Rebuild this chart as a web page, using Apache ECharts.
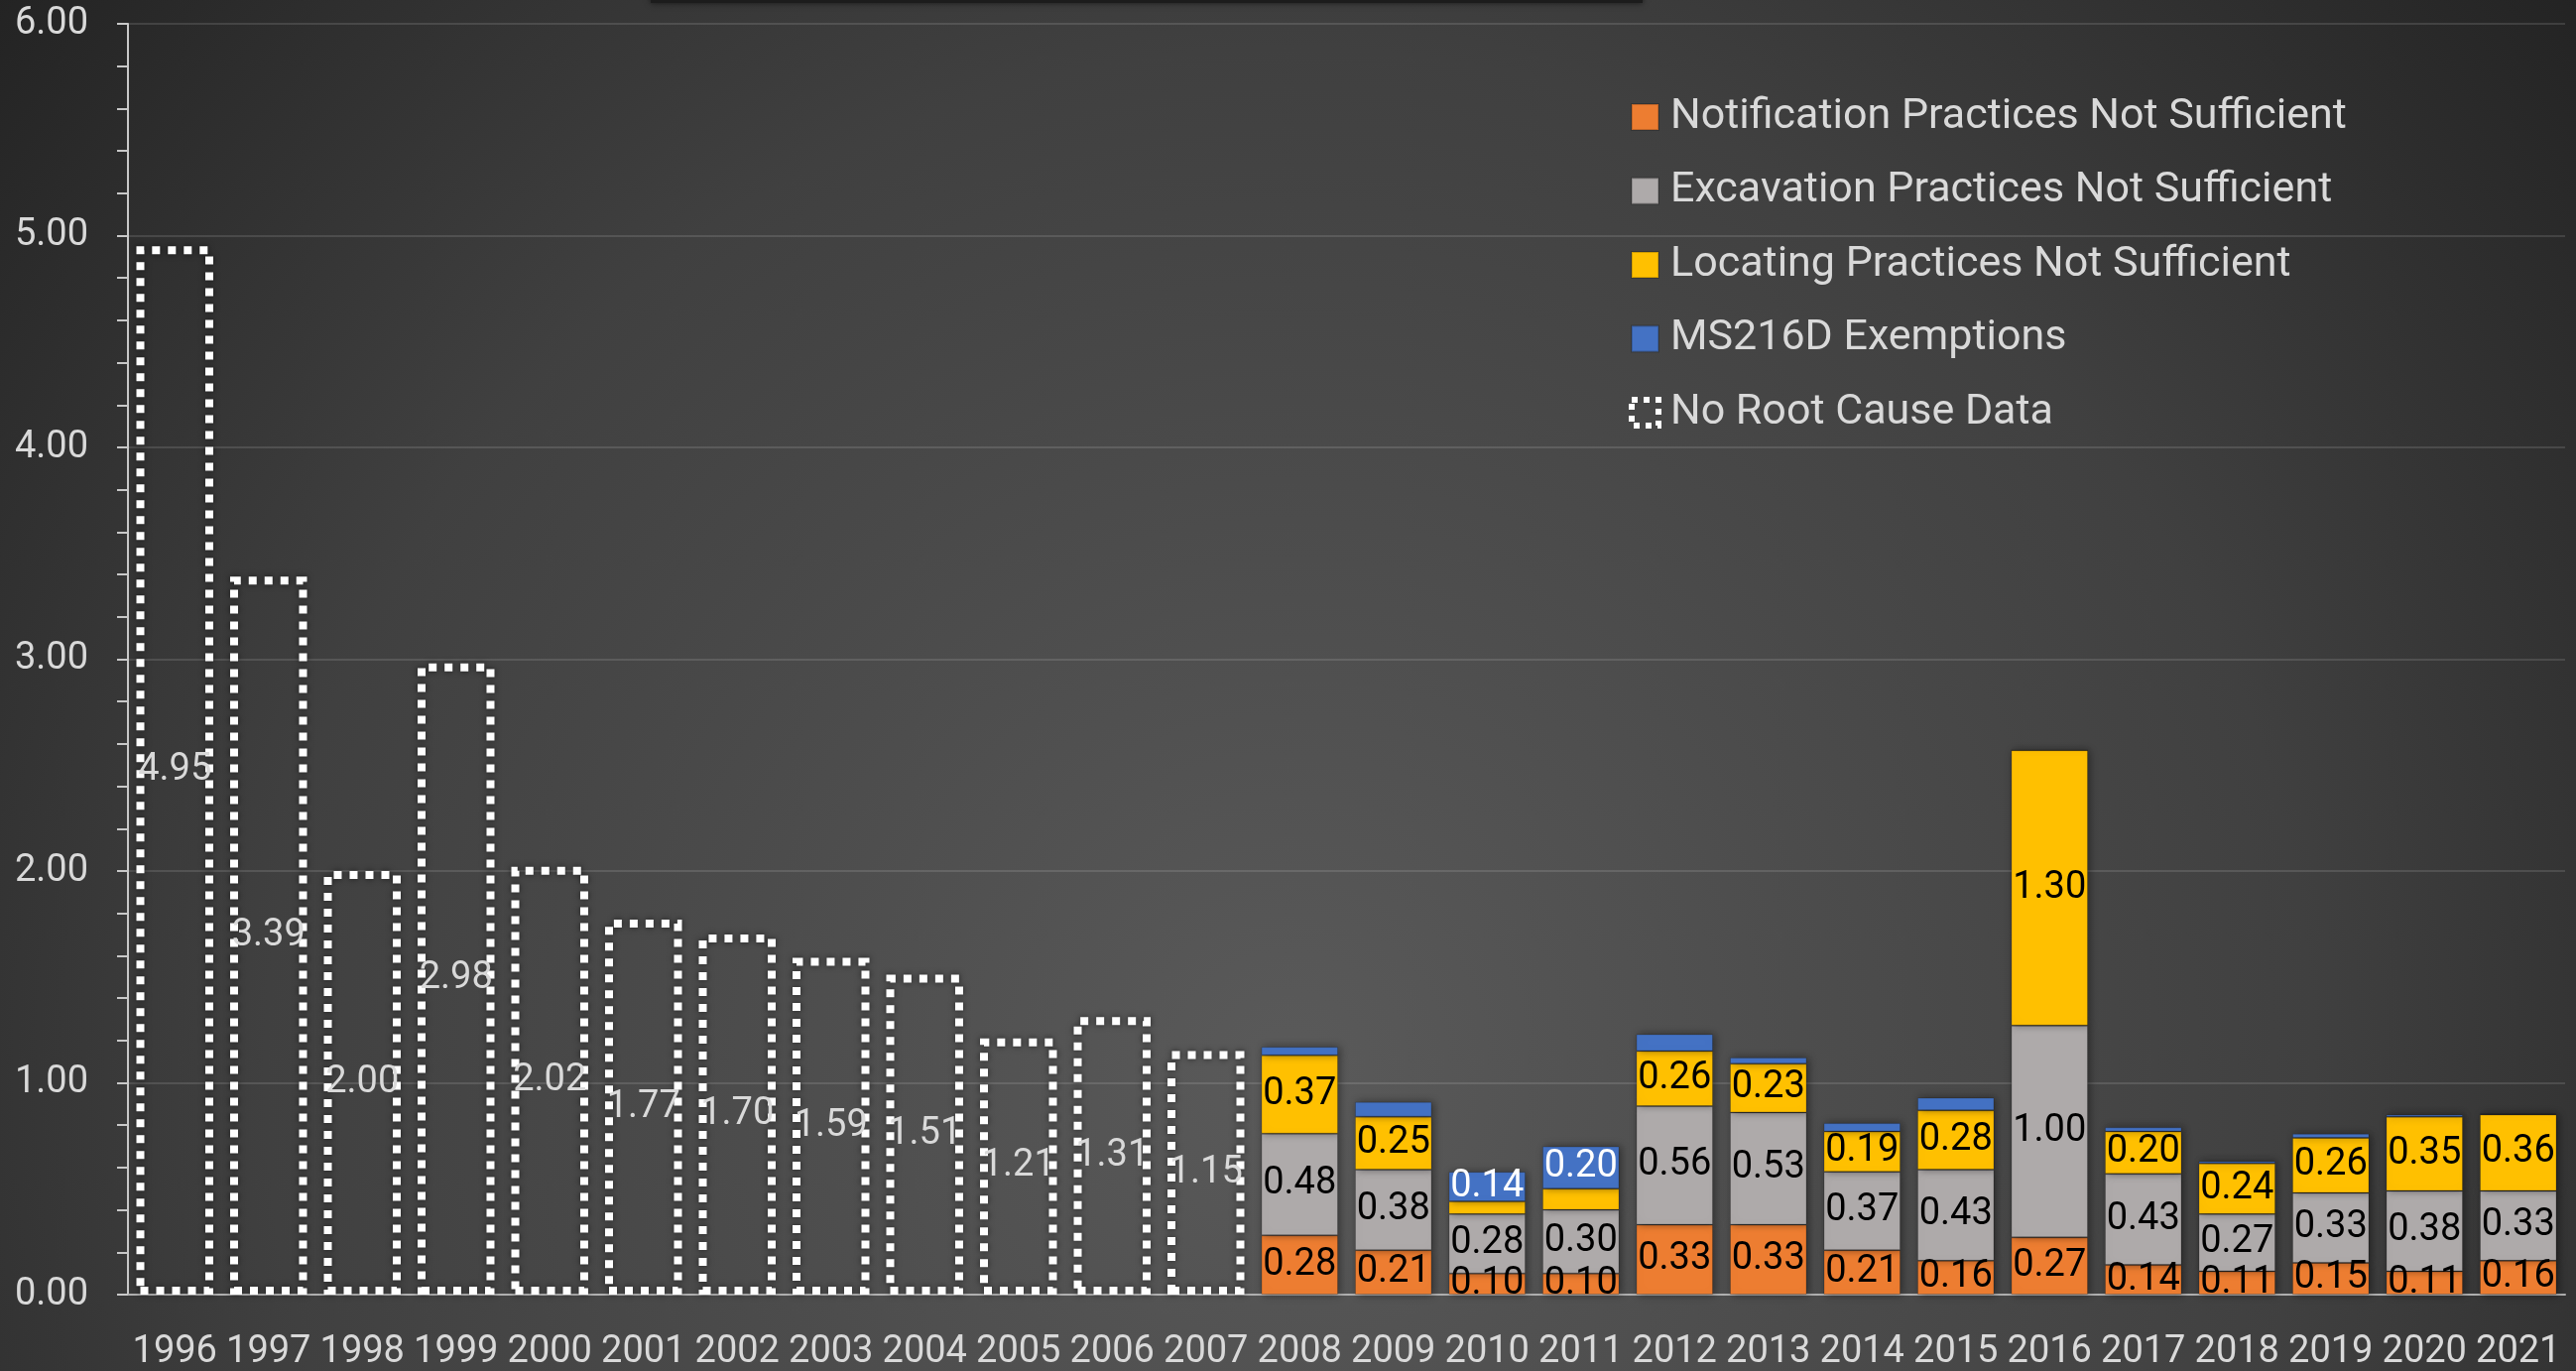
<!DOCTYPE html>
<html>
<head>
<meta charset="utf-8">
<script src="https://cdn.jsdelivr.net/npm/echarts@6/dist/echarts.min.js"></script>
<style>
html,body{margin:0;padding:0;background:#2a2a2a;}
#chart{width:2597px;height:1382px;}
</style>
</head>
<body>
<div id="chart"></div>
<script>
const years = ['1996','1997','1998','1999','2000','2001','2002','2003','2004','2005','2006','2007','2008','2009','2010','2011','2012','2013','2014','2015','2016','2017','2018','2019','2020','2021'];
const noRootCause = [4.95,3.39,2.00,2.98,2.02,1.77,1.70,1.59,1.51,1.21,1.31,1.15,null,null,null,null,null,null,null,null,null,null,null,null,null,null];
const notification = [null,null,null,null,null,null,null,null,null,null,null,null,0.28,0.21,0.10,0.10,0.33,0.33,0.21,0.16,0.27,0.14,0.11,0.15,0.11,0.16];
const excavation = [null,null,null,null,null,null,null,null,null,null,null,null,0.48,0.38,0.28,0.30,0.56,0.53,0.37,0.43,1.00,0.43,0.27,0.33,0.38,0.33];
const locating = [null,null,null,null,null,null,null,null,null,null,null,null,0.37,0.25,0.06,0.10,0.26,0.23,0.19,0.28,1.30,0.20,0.24,0.26,0.35,0.36];
const exemptions = [null,null,null,null,null,null,null,null,null,null,null,null,0.04,0.07,0.14,0.20,0.08,0.03,0.04,0.06,0.00,0.02,0.01,0.02,0.01,0.005];
const yTicks = ['0.00','1.00','2.00','3.00','4.00','5.00','6.00'];

const FONT = 'Roboto';
const chart = echarts.init(document.getElementById('chart'));

function fmt(minShow){
  return function(p){
    if (p.value == null || p.value < minShow) return '';
    return Number(p.value).toFixed(2);
  };
}
const segStyle = (c) => ({color:c, borderColor:'rgba(0,0,0,0.18)', borderWidth:1, shadowColor:'rgba(0,0,0,0.45)', shadowBlur:8, shadowOffsetX:2, shadowOffsetY:0});
const segLabel = (minShow, col) => ({show:true, position:'inside', color:col||'#000', fontFamily:FONT, fontSize:38, formatter:fmt(minShow)});

chart.setOption({
  backgroundColor: {
    type:'radial', x:1300, y:1080, r:1720, global:true,
    colorStops:[{offset:0,color:'#5a5a5a'},{offset:0.6,color:'#404040'},{offset:1,color:'#222222'}]
  },
  animation:false,
  graphic:[{type:'rect', shape:{x:656,y:-20,width:1000,height:23}, style:{fill:'#1c1c1c', shadowBlur:6, shadowColor:'rgba(0,0,0,0.6)'}}],
  grid:{left:129, right:11, top:24, bottom:76, containLabel:false},
  legend:{
    orient:'vertical', left:1637, top:91, itemWidth:27, itemHeight:26, itemGap:30.5,
    icon:'rect',
    textStyle:{color:'#d9d9d9', fontFamily:FONT, fontSize:43, lineHeight:44, padding:[0,0,0,7]},
    data:['Notification Practices Not Sufficient','Excavation Practices Not Sufficient','Locating Practices Not Sufficient','MS216D Exemptions',
      {name:'No Root Cause Data', itemStyle:{color:'rgba(0,0,0,0)', borderColor:'#ffffff', borderWidth:6, borderType:[6,6]}}]
  },
  xAxis:{
    type:'category', data:years,
    axisLine:{lineStyle:{color:'#b0b0b0', width:2}},
    axisTick:{alignWithLabel:true, length:10, lineStyle:{color:'#9a9a9a', width:2}},
    axisLabel:{color:'#d9d9d9', fontFamily:FONT, fontSize:38, margin:39, interval:0},
    splitLine:{show:false}
  },
  yAxis:{
    type:'value', min:0, max:6, interval:1,
    axisLine:{show:true, lineStyle:{color:'#c8c8c8', width:2}},
    axisTick:{show:true, length:11, lineStyle:{color:'#c8c8c8', width:2}},
    minorTick:{show:true, splitNumber:5, length:11, lineStyle:{color:'#c8c8c8', width:2}},
    axisLabel:{color:'#d9d9d9', fontFamily:FONT, fontSize:38, margin:40, formatter:(v)=>yTicks[Math.round(v)]},
    splitLine:{show:true, lineStyle:{color:'rgba(255,255,255,0.12)', width:2}}
  },
  series:[
    {name:'Notification Practices Not Sufficient', type:'bar', stack:'all', barWidth:'82%', data:notification,
     itemStyle:segStyle('#ED7D31'), label:segLabel(0)},
    {name:'Excavation Practices Not Sufficient', type:'bar', stack:'all', data:excavation,
     itemStyle:segStyle('#AEAAAA'), label:segLabel(0)},
    {name:'Locating Practices Not Sufficient', type:'bar', stack:'all', data:locating,
     itemStyle:segStyle('#FFC000'), label:segLabel(0.15)},
    {name:'MS216D Exemptions', type:'bar', stack:'all', data:exemptions,
     itemStyle:segStyle('#4472C4'), label:segLabel(0.1,'#ffffff')},
    {name:'No Root Cause Data', type:'bar', stack:'all', data:noRootCause,
     itemStyle:{color:'rgba(0,0,0,0)', borderColor:'#ffffff', borderWidth:8, borderType:[8,8],
       shadowColor:'rgba(0,0,0,0.6)', shadowBlur:6},
     label:{show:true, position:'inside', color:'#d9d9d9', fontFamily:FONT, fontSize:38, formatter:fmt(0)}}
  ]
});
</script>
</body>
</html>
